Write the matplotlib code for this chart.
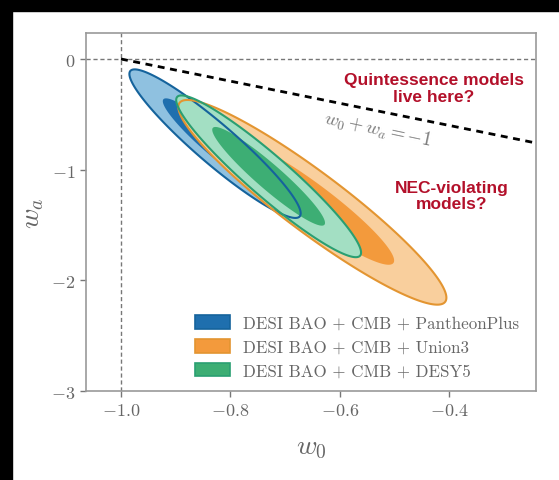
import numpy as np
import matplotlib
matplotlib.use("Agg")
import matplotlib.pyplot as plt
from matplotlib.patches import Polygon, Patch, Rectangle

plt.rcParams['mathtext.fontset'] = 'cm'

# Gaussian summaries of the contours: centre w0, centre wa, sigma w0, sigma wa, correlation
names = ['DESI BAO + CMB + PantheonPlus', 'DESI BAO + CMB + Union3', 'DESI BAO + CMB + DESY5']
c_w0 = [-0.828, -0.650, -0.730]
c_wa = [-0.765, -1.295, -1.060]
s_w0 = [0.063, 0.0986, 0.068]
s_wa = [0.270, 0.372, 0.294]
rho = [-0.938, -0.932, -0.943]

inner_col = ['#1f6fae', '#f39a3c', '#3dae74']
outer_col = ['#8fc1e0', '#f9cf9d', '#a3dfc3']
edge_col = ['#15639c', '#e39531', '#2a9f72']

xticks = [-1.0, -0.8, -0.6, -0.4]
yticks = [0, -1, -2, -3]


def contour(i, r, n=300):
    t = np.linspace(0, 2 * np.pi, n)
    cov = np.array([[s_w0[i] ** 2, rho[i] * s_w0[i] * s_wa[i]],
                    [rho[i] * s_w0[i] * s_wa[i], s_wa[i] ** 2]])
    L = np.linalg.cholesky(cov)
    pts = (L @ np.vstack([np.cos(t), np.sin(t)])) * r
    return np.column_stack([pts[0] + c_w0[i], pts[1] + c_wa[i]])


fig = plt.figure(figsize=(5.59, 4.81), dpi=100)
fig.patch.set_facecolor('white')
# black frame of the screenshot
fig.patches.append(Rectangle((0, 0), 12 / 559, 1, transform=fig.transFigure, color='black', zorder=-1))
fig.patches.append(Rectangle((0, 1 - 12 / 481), 1, 12 / 481, transform=fig.transFigure, color='black', zorder=-1))

ax = fig.add_axes([86 / 559, 89 / 481, 450 / 559, 358 / 481])

r1, r2 = np.sqrt(2.30), np.sqrt(6.18)
for i in range(3):
    ax.add_patch(Polygon(contour(i, r2), closed=True, facecolor=outer_col[i], edgecolor='none', zorder=2 + i))
    ax.add_patch(Polygon(contour(i, r1), closed=True, facecolor=inner_col[i], edgecolor='none', zorder=2 + i))
for i in range(3):
    ax.add_patch(Polygon(contour(i, r2), closed=True, facecolor='none', edgecolor=edge_col[i], lw=1.5, zorder=6))

ax.axhline(0, color='#777777', ls=(0, (3, 2)), lw=1.0, zorder=1)
ax.axvline(-1, color='#777777', ls=(0, (3, 2)), lw=1.0, zorder=1)
xl = np.array([-1.0, -0.2])
ax.plot(xl, -1 - xl, color='black', ls=(0, (2.5, 2)), lw=2.0, zorder=7)

ax.text(-0.530, -0.632, r'$w_0 + w_a = -1$', rotation=-12, color='#777777',
        fontsize=13.5, ha='center', va='center', zorder=8)
ax.text(-0.428, -0.262, 'Quintessence models\nlive here?', color='#b3102a', fontsize=12.5,
        fontweight='bold', family='Liberation Sans', ha='center', va='center', linespacing=1.15)
ax.text(-0.395, -1.233, 'NEC-violating\nmodels?', color='#b3102a', fontsize=12.5,
        fontweight='bold', family='Liberation Sans', ha='center', va='center', linespacing=1.15)

ax.set_xlim(-1.064, -0.241)
ax.set_ylim(-3.0, 0.235)
ax.set_xticks(xticks)
ax.set_xticklabels([r'$%.1f$' % v for v in xticks])
ax.set_yticks(yticks)
ax.set_yticklabels([r'$%d$' % v for v in yticks])
ax.tick_params(colors='#777777', labelcolor='#666666', labelsize=13, length=4, width=1)
for s in ax.spines.values():
    s.set_color('#999999')
    s.set_linewidth(1.2)
ax.set_xlabel(r'$w_0$', fontsize=20, color='#666666', labelpad=9)
ax.set_ylabel(r'$w_a$', fontsize=20, color='#666666', labelpad=4)

handles = [Patch(facecolor=inner_col[i], edgecolor=edge_col[i], lw=1.2) for i in range(3)]
leg = ax.legend(handles, names, loc='lower left', frameon=False,
                handlelength=2.1, handleheight=0.85, handletextpad=0.75, labelspacing=0.48,
                borderpad=0, borderaxespad=0,
                prop={'family': 'cmr10', 'size': 12.2}, bbox_to_anchor=(0.242, 0.035))
for t in leg.get_texts():
    t.set_color('#666666')

fig.savefig('out.png', dpi=100)
